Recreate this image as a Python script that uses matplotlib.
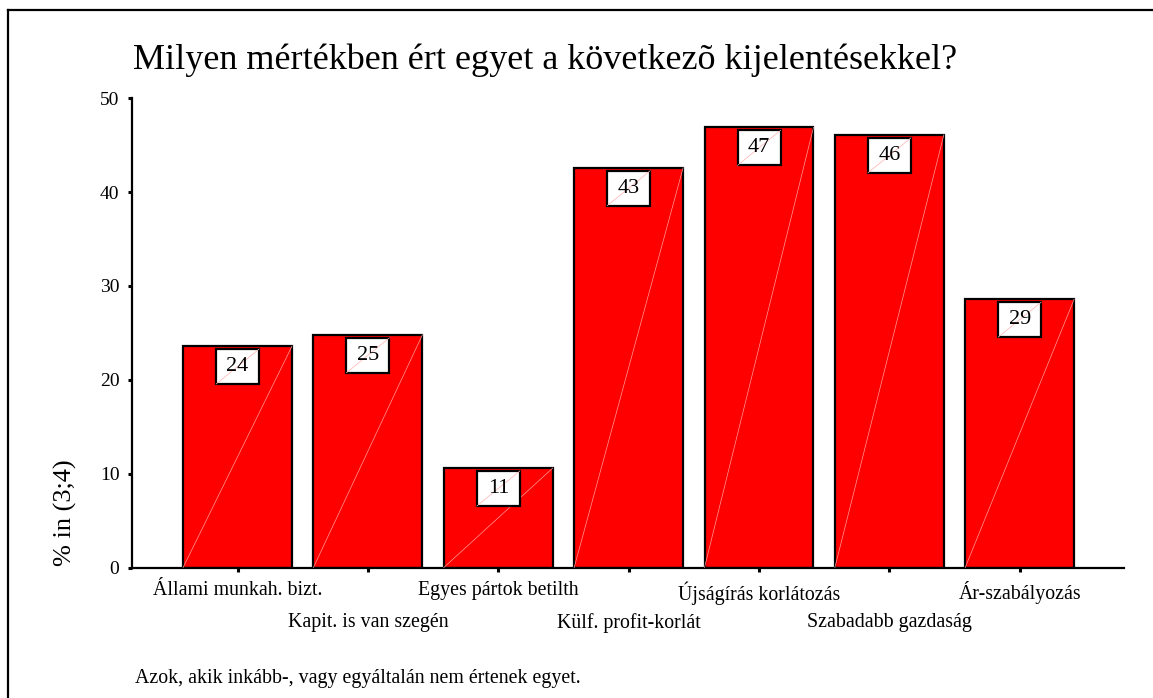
import matplotlib
matplotlib.use("Agg")
import matplotlib.pyplot as plt
from matplotlib.patches import Rectangle
from matplotlib.lines import Line2D

# Survey items and share of respondents (%) who disagree
categories = [
    "Állami munkah. bizt.",
    "Kapit. is van szegén",
    "Egyes pártok betilth",
    "Külf. profit-korlát",
    "Újságírás korlátozás",
    "Szabadabb gazdaság",
    "Ár-szabályozás",
]
values = [23.6, 24.8, 10.6, 42.6, 46.9, 46.1, 28.6]
yticks = [0, 10, 20, 30, 40, 50]

title = "Milyen mértékben ért egyet a következõ kijelentésekkel?"
ylabel = "% in (3;4)"
footnote = "Azok, akik inkább-, vagy egyáltalán nem értenek egyet."

plt.rcParams["font.family"] = ["Liberation Serif", "DejaVu Serif"]

W, H, DPI = 1153, 698, 100
fig = plt.figure(figsize=(W / DPI, H / DPI), dpi=DPI)
fig.patch.set_facecolor("white")

# plot area in pixel coordinates
ax_l, ax_r, ax_b, ax_t = 132, 1124, 567.5, 98.3
ax = fig.add_axes([ax_l / W, 1 - ax_b / H, (ax_r - ax_l) / W, (ax_b - ax_t) / H])

x = list(range(len(categories)))
bar_w = 0.836
ax.bar(x, values, width=bar_w, color="#ff0000", edgecolor="black",
       linewidth=1.6, zorder=2)

# faint diagonal stroke across each bar
for xi, v in zip(x, values):
    ax.plot([xi - bar_w / 2, xi + bar_w / 2], [0, v], color="#ff9a9a",
            linewidth=0.5, zorder=3)

ax.set_xlim(-0.81, 6.8)
ax.set_ylim(0, 50)

# pixel -> data scale factors
px_x = 7.61 / (ax_r - ax_l)
px_y = 50 / (ax_b - ax_t)

# value labels in white boxes at the top of the bars
box_w = 43 * px_x
box_h = 35 * px_y
gap = 3 * px_y
for xi, v in zip(x, values):
    top = v - gap
    bx, by = xi - box_w / 2, top - box_h
    ax.add_patch(Rectangle((bx, by), box_w, box_h, facecolor="white",
                           edgecolor="black", linewidth=1.6, zorder=4))
    ax.plot([bx, bx + box_w], [by, top], color="#ffb0b0", linewidth=0.5,
            zorder=5)
    ax.text(xi, by + box_h / 2, f"{round(v):d}", ha="center", va="center",
            fontsize=16, zorder=6)

for s in ["top", "right"]:
    ax.spines[s].set_visible(False)
ax.spines["left"].set_linewidth(1.6)
ax.spines["bottom"].set_linewidth(1.6)

ax.set_yticks(yticks)
ax.set_yticklabels([str(t) for t in yticks], fontsize=14)
ax.set_xticks(x)
ax.set_xticklabels(categories, fontsize=14.3)
ax.tick_params(axis="both", direction="out", length=3, width=2.2)
ax.tick_params(axis="y", pad=6)
for i, tick in enumerate(ax.xaxis.get_major_ticks()):
    tick.set_pad(7 if i % 2 == 0 else 30)

fig.text(65 / W, 1 - 513 / H, ylabel, rotation=90, ha="center",
         va="center", fontsize=19)
fig.text(133 / W, 1 - 60 / H, title, ha="left", va="center", fontsize=26)
fig.text(135 / W, 1 - 679 / H, footnote, ha="left", va="center",
         fontsize=14.3)

# frame around the chart
fig.add_artist(Line2D([8 / W, 1.0], [1 - 9.5 / H, 1 - 9.5 / H],
                      transform=fig.transFigure, color="black", linewidth=1.6))
fig.add_artist(Line2D([8 / W, 8 / W], [1 - 9.5 / H, 0.0],
                      transform=fig.transFigure, color="black", linewidth=1.6))

fig.savefig("out.png", dpi=DPI, facecolor="white")
